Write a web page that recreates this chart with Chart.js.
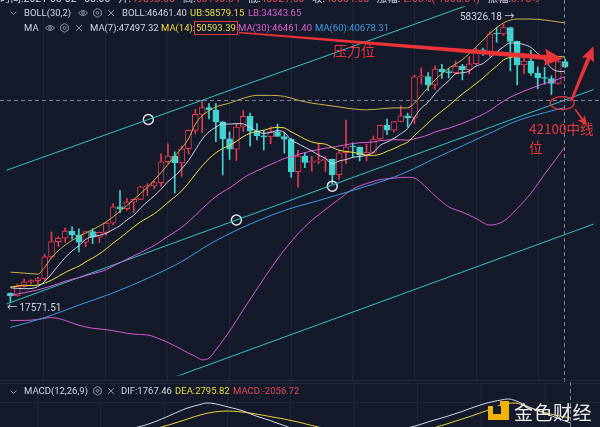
<!DOCTYPE html>
<html>
<head>
<meta charset="utf-8">
<script src="https://cdn.jsdelivr.net/npm/chart.js@4.4.1/dist/chart.umd.min.js"></script>
<style>
  html, body { margin: 0; padding: 0; }
  body { width: 600px; height: 427px; overflow: hidden; position: relative; background: #151a2b;
         font-family: Roboto, "Noto Sans CJK SC", sans-serif; }
  canvas { position: absolute; left: 0; }
  #main { top: 0; }
  #macd { top: 382px; }
  #sep { position: absolute; left: 0; top: 380px; width: 600px; height: 1px; background: #272c40; }
  #sep2 { position: absolute; left: 0; top: 383px; width: 600px; height: 1px; background: #1f2436; }
  .t { position: absolute; white-space: nowrap; font-size: 9.5px; line-height: 12px; color: #d3d5e0; }
  .t svg { position: absolute; }
  .w { color: #d3d5e0; } .y { color: #eedc3e; } .p { color: #de5fd2; } .b { color: #3f9fe6; } .r { color: #e34b55; }
  .note { position: absolute; white-space: nowrap; color: #e8363c; font-family: "Noto Sans CJK SC", sans-serif; }
</style>
</head>
<body>
<canvas id="main" width="600" height="382"></canvas>
<div id="sep"></div>
<div id="sep2"></div>
<canvas id="macd" width="600" height="45"></canvas>

<!-- header rows -->
<div class="t w" style="top:-7px;left:0;font-size:10.5px;word-spacing:5px">时间:2021-03-02 08:00 开:<span class="r">49590.30</span> 高:<span class="r">50198.34</span> 低:<span class="r">48321.00</span> 收:<span class="r">48584.66</span> 涨幅:<span class="r">-2.03%(-1005.64)</span> 振幅:<span class="r">3.78%</span></div>

<div class="t" style="top:7px;left:10px"><svg width="7" height="5" style="top:4px"><path d="M.5 .5L3.5 3.5L6.5 .5" fill="none" stroke="#8a8fa5"/></svg></div>
<div class="t w" style="top:7px;left:24px">BOLL(30,2)</div>
<div class="t" style="top:7px;left:78px"><svg width="10" height="8" style="top:2px"><path d="M.5 4Q5 -1 9.5 4Q5 9 .5 4Z" fill="none" stroke="#8a8fa5"/><circle cx="5" cy="4" r="1.4" fill="none" stroke="#8a8fa5"/></svg></div>
<div class="t" style="top:7px;left:93px"><svg width="9" height="10" style="top:1px"><path d="M4.5 .5L8.3 2.7V7.1L4.5 9.3L.7 7.1V2.7Z" fill="none" stroke="#8a8fa5"/><circle cx="4.5" cy="4.9" r="1.4" fill="none" stroke="#8a8fa5"/></svg></div>
<div class="t" style="top:7px;left:107px"><svg width="8" height="8" style="top:2px"><path d="M1 1L7 7M7 1L1 7" stroke="#8a8fa5"/></svg></div>
<div class="t w" style="top:7px;left:122px">BOLL:46461.40</div>
<div class="t y" style="top:7px;left:190px">UB:58579.15</div>
<div class="t p" style="top:7px;left:248px">LB:34343.65</div>

<div class="t w" style="top:22px;left:24px">MA</div>
<div class="t" style="top:22px;left:45px"><svg width="10" height="8" style="top:2px"><path d="M.5 4Q5 -1 9.5 4Q5 9 .5 4Z" fill="none" stroke="#8a8fa5"/><circle cx="5" cy="4" r="1.4" fill="none" stroke="#8a8fa5"/></svg></div>
<div class="t" style="top:22px;left:60px"><svg width="9" height="10" style="top:1px"><path d="M4.5 .5L8.3 2.7V7.1L4.5 9.3L.7 7.1V2.7Z" fill="none" stroke="#8a8fa5"/><circle cx="4.5" cy="4.9" r="1.4" fill="none" stroke="#8a8fa5"/></svg></div>
<div class="t" style="top:22px;left:75px"><svg width="8" height="8" style="top:2px"><path d="M1 1L7 7M7 1L1 7" stroke="#8a8fa5"/></svg></div>
<div class="t w" style="top:22px;left:90px">MA(7):47497.32</div>
<div class="t y" style="top:22px;left:161px">MA(14):</div>
<div class="t y" style="top:21px;left:194px;border:1px solid #e8363c;padding:0 1px;line-height:12px">50593.39</div>
<div class="t p" style="top:22px;left:238px">MA(30):46461.40</div>
<div class="t b" style="top:22px;left:315px">MA(60):40678.31</div>

<div class="t" style="top:386px;left:10px"><svg width="7" height="5" style="top:4px"><path d="M.5 .5L3.5 3.5L6.5 .5" fill="none" stroke="#8a8fa5"/></svg></div>
<div class="t w" style="top:385px;left:24px">MACD(12,26,9)</div>
<div class="t" style="top:385px;left:93px"><svg width="9" height="10" style="top:1px"><path d="M4.5 .5L8.3 2.7V7.1L4.5 9.3L.7 7.1V2.7Z" fill="none" stroke="#8a8fa5"/><circle cx="4.5" cy="4.9" r="1.4" fill="none" stroke="#8a8fa5"/></svg></div>
<div class="t" style="top:385px;left:107px"><svg width="8" height="8" style="top:2px"><path d="M1 1L7 7M7 1L1 7" stroke="#8a8fa5"/></svg></div>
<div class="t w" style="top:385px;left:121px">DIF:1767.46</div>
<div class="t y" style="top:385px;left:175px">DEA:2795.82</div>
<div class="t r" style="top:385px;left:233px">MACD:-2056.72</div>

<!-- high / low price tags -->
<div class="t w" style="top:11px;left:460px;font-size:10px">58326.18 →</div>
<div class="t w" style="top:302px;left:7px;font-size:10px">← 17571.51</div>

<!-- hand annotations -->
<div class="note" style="left:333px;top:40px;font-size:14px">压力位</div>
<div class="note" style="left:529px;top:119px;font-size:13.5px;line-height:19px">42100中线<br>位</div>

<!-- watermark -->
<svg style="position:absolute;left:488px;top:401px" width="21" height="19" viewBox="0 0 21 19">
  <path d="M0 5H12V0H21V19H0Z" fill="#f0b400"/>
  <rect x="5" y="5" width="8" height="8" fill="#151a2b"/>
</svg>
<div style="position:absolute;left:514px;top:398px;font-size:19px;color:#eeeeee;font-family:'Noto Sans CJK SC',sans-serif;letter-spacing:0.5px">金色财经</div>

<script>
// daily candles 2020-12-11 .. 2021-03-02
const dates = ['12-11','12-12','12-13','12-14','12-15','12-16','12-17','12-18','12-19','12-20',
  '12-21','12-22','12-23','12-24','12-25','12-26','12-27','12-28','12-29','12-30',
  '12-31','01-01','01-02','01-03','01-04','01-05','01-06','01-07','01-08','01-09',
  '01-10','01-11','01-12','01-13','01-14','01-15','01-16','01-17','01-18','01-19',
  '01-20','01-21','01-22','01-23','01-24','01-25','01-26','01-27','01-28','01-29',
  '01-30','01-31','02-01','02-02','02-03','02-04','02-05','02-06','02-07','02-08',
  '02-09','02-10','02-11','02-12','02-13','02-14','02-15','02-16','02-17','02-18',
  '02-19','02-20','02-21','02-22','02-23','02-24','02-25','02-26','02-27','02-28',
  '03-01','03-02']

const opens = [18245,18040,18800,19175,19275,19440,21350,22800,23140,23870,
  23480,22750,23820,23250,23730,24710,26490,26280,27040,27370,
  28900,28990,29410,32190,33000,32020,34040,36860,39490,40670,
  40240,38240,35550,34000,37400,39150,36770,36010,35820,36630,
  35890,35470,30830,32990,32090,32270,32370,32510,30430,33460,
  34320,34300,33110,33520,35510,37670,36900,38290,39260,38870,
  46450,46500,44850,48010,47470,47290,48590,47910,49130,52160,
  51600,55920,55840,57410,54090,48890,49680,47160,46280,46100,
  45140,49590]
const highs = [18290,18950,19410,19350,19570,21560,23800,23280,24170,24300,
  24100,23840,24110,23770,24790,26870,28420,27500,27410,28990,
  29300,29600,33300,34780,33600,34440,36940,40370,41950,41380,
  41350,38260,36630,37850,40100,39700,37950,36850,37400,37850,
  36420,35600,33830,33460,32940,34880,32920,32560,33780,38530,
  34930,34330,34720,35990,37660,38700,38310,40950,39700,46790,
  48200,47310,48680,48980,48130,49710,49000,50650,52620,52530,
  56370,57500,58326.18,57530,54180,51370,52040,48400,48390,46630,
  49790,50200]
const lows = [17571.51,18020,18710,19000,19050,19300,21230,22350,22750,23060,
  21820,22350,22600,22700,23440,24500,25850,26100,25880,27320,
  27850,28620,28950,32000,28130,30220,33290,36300,36500,38720,
  35110,30420,32530,32380,36700,34410,35360,33850,34800,35900,
  33400,30070,28850,31390,30900,31910,30840,29240,29840,31920,
  32830,32300,32300,33420,35360,36160,36570,38220,37350,37990,
  45020,43730,43990,46130,46200,47020,45800,47000,48950,50900,
  50710,53860,55480,47620,44890,47000,46700,44100,45000,43000,
  45000,48320]
const closes = [18040,18800,19175,19275,19440,21350,22800,23140,23870,23480,
  22750,23820,23250,23730,24710,26490,26280,27040,27370,28900,
  28990,29410,32190,33000,32020,34040,36860,39490,40670,40240,
  38240,35550,34000,37400,39150,36770,36010,35820,36630,35890,
  35470,30830,32990,32090,32270,32370,32510,30430,33460,34320,
  34300,33110,33520,35510,37670,36900,38290,39260,38870,46450,
  46500,44850,48010,47470,47290,48590,47910,49130,52160,51600,
  55920,55840,57410,54090,48890,49680,47160,46280,46100,45140,
  49590,48530]

const ma7 = [18691,18641,18615,18630,18790,19190,19840,20569,21293,21908,
  22404,23030,23301,23434,23659,24033,24433,25046,25553,26360,
  27111,27783,28597,29557,30269,31221,32359,33859,35467,36617,
  37366,37870,37864,37941,37893,37336,36731,36386,36540,36810,
  36534,35346,34806,34246,33739,33130,32647,31927,32303,32493,
  32809,32929,33093,33521,34556,35047,35614,36323,37146,38993,
  40563,41589,43176,44487,45634,47023,47231,47607,48651,49164,
  50371,51593,52853,53736,53701,53347,52713,51336,49944,48191,
  47549,47497.32]
const ma14 = [18748,18825,18896,18866,18914,19068,19309,19630,19967,20261,
  20517,20910,21246,21637,22114,22663,23170,23725,24291,24831,
  25273,25721,26315,26995,27657,28387,29359,30485,31625,32607,
  33461,34069,34543,35150,35876,36401,36674,36876,37205,37337,
  37238,36619,36071,35489,35062,34835,34729,34231,33824,33649,
  33527,33334,33111,33084,33241,33675,34054,34566,35037,36043,
  37042,38072,39111,40051,40979,42084,43112,44085,45120,46170,
  47429,48614,49938,50484,50654,50999,50939,50854,50769,50522,
  50642,50593.39]
const ma30 = [18113,18197,18292,18402,18517,18671,18843,19021,19222,19382,
  19517,19697,19860,20012,20212,20523,20828,21138,21445,21751,
  22092,22433,22858,23337,23766,24255,24845,25550,26288,27021,
  27694,28252,28747,29351,30008,30522,30962,31385,31810,32224,
  32648,32881,33206,33485,33737,33933,34140,34253,34456,34637,
  34814,34937,34982,35065,35254,35349,35397,35389,35329,35536,
  35811,36121,36588,36924,37195,37589,37986,38430,38947,39471,
  40153,40986,41800,42534,43088,43665,44153,44681,45103,45463,
  45973,46461.40]

// read at fewer candles
const ma60Idx = [0,5,10,15,20,25,28,30,35,40,45,50,56,59,62,66,70,74,78,81]
const ma60 = [15751,16433,17345,18282,19460,20923,22112,22904,24597,26082,
  27228,28453,30121,31278,32667,34474,36400,38412,39780,40678.31]

const bandIdx = [0,2,4,5,6,8,10,12,14,16,18,20,22,24,26,27,28,29,30,32,
  34,36,38,40,42,44,46,48,50,52,54,56,58,59,60,62,64,66,68,70,
  72,74,76,78,80,81]
const bollUpper = [19994,19911,19828,20415,21284,22469,23327,24017,24832,25997,
  27330,28849,30710,32966,35534,37825,39272,40095,40770,41455,
  42328,42861,42861,42681,41977,41455,41111,40770,40432,40264,
  40432,40601,40601,41455,42861,45816,48164,50005,52789,55958,
  58584,59568,59568,59320,58828,58579.15]
const bollLower = [16234,16234,16302,16380,16438,16234,15900,15700,15600,15450,
  15300,15250,14950,14550,14100,13900,13700,13800,14300,15500,
  17000,18600,20300,22000,23600,25000,26200,27400,28600,29300,
  29800,30000,30100,30000,29400,27800,26500,25900,25200,24500,
  24900,26300,28100,30500,33000,34343.65]

// MACD pane, only the visible upper part
const difIdx = [16,18,20,22,24,26,28,29,30,32,34,36,38,40,42,
  55,57,59,61,63,65,67,69,71,72,73,75,77,79,81]
const difLine = [-500,600,1300,2300,3500,4700,5500,5800,5700,5000,4300,3200,2300,1300,400,
  -500,600,1300,2200,3000,3900,4900,5800,6400,6600,6300,5000,3900,2800,1767.46]
const deaIdx = [20,22,24,26,28,30,32,34,36,38,40,42,44,46,
  59,61,63,65,67,69,71,73,75,77,79,81]
const deaLine = [-300,800,1600,2500,3400,4000,4200,4000,3600,3100,2600,2000,1300,700,
  -300,700,1500,2400,3300,4300,5400,5800,4900,4000,3300,2795.82]

// drawn channel lines [candle, price]
const channelTop = [[-1,30890],[70,65420]]
const channelMid = [[-1,17346],[86,44350]]
const channelLow = [[13.71,11378],[86,24822]]
const touchPoints = [[20.14,38622],[33,25040],[47,28970]]

// crosshair and hand drawn notes [candle, price]
const crossIdx = 81
const crossPrice = 42100
const pressArrow = [[33.4,56200],[80.6,50200]]
const upArrow = [[81.9,41900],[85.15,53000]]
const downArrow = [[82.45,40400],[84.2,37600]]
const ring = [80.57,41460]

const bg = '#151a2b'
const upCol = '#e23a4f'
const dnCol = '#40d3cf'
const gridCol = '#1f2436'
const xMin = -4 / 7, xMax = 596 / 7
const gridStart = 4.7, gridStep = 9.05

const pts = (idx, vals) => idx.map((i, k) => ({x: i, y: vals[k]}))
const allIdx = closes.map((c, i) => i)
const isUp = closes.map((c, i) => c >= opens[i])

function lineSet(label, data, color, order) {
  return {type: 'line', label, data, borderColor: color, borderWidth: 1, pointRadius: 0,
    tension: 0.35, cubicInterpolationMode: 'monotone', fill: false, order}
}

function vGrid(chart) {
  const {ctx, scales: {x}} = chart
  ctx.save()
  ctx.strokeStyle = gridCol
  ctx.lineWidth = 1
  ctx.beginPath()
  for (let v = gridStart; v < xMax; v += gridStep) {
    const px = Math.round(x.getPixelForValue(v)) + 0.5
    ctx.moveTo(px, 0); ctx.lineTo(px, chart.height)
  }
  ctx.stroke()
  ctx.restore()
}

function arrow(ctx, x0, y0, x1, y1, w0, w1, head, half) {
  const ang = Math.atan2(y1 - y0, x1 - x0)
  const len = Math.hypot(x1 - x0, y1 - y0)
  ctx.save()
  ctx.translate(x0, y0)
  ctx.rotate(ang)
  ctx.beginPath()
  ctx.moveTo(0, -w0 / 2)
  ctx.lineTo(len - head, -w1 / 2)
  ctx.lineTo(len - head - 2, -half)
  ctx.lineTo(len, 0)
  ctx.lineTo(len - head - 2, half)
  ctx.lineTo(len - head, w1 / 2)
  ctx.lineTo(0, w0 / 2)
  ctx.closePath()
  ctx.fill()
  ctx.restore()
}

const overlay = {
  id: 'overlay',
  beforeDatasetsDraw(chart) { vGrid(chart) },
  afterDatasetsDraw(chart) {
    const {ctx, scales: {x, y}} = chart
    const P = a => [x.getPixelForValue(a[0]), y.getPixelForValue(a[1])]
    ctx.save()
    ctx.strokeStyle = '#7c8194'
    ctx.lineWidth = 1
    ctx.setLineDash([4, 3])
    const cx = Math.round(x.getPixelForValue(crossIdx)) - 0.5
    const cy = Math.round(y.getPixelForValue(crossPrice)) + 0.5
    ctx.beginPath()
    ctx.moveTo(cx, 0); ctx.lineTo(cx, chart.height)
    ctx.moveTo(0, cy); ctx.lineTo(chart.width, cy)
    ctx.stroke()
    ctx.setLineDash([])

    ctx.fillStyle = '#ec3438'
    let a = P(pressArrow[0]), b = P(pressArrow[1])
    arrow(ctx, a[0], a[1], b[0], b[1], 1.5, 5, 16, 8.5)
    a = P(upArrow[0]); b = P(upArrow[1])
    arrow(ctx, a[0], a[1], b[0], b[1], 2.5, 4, 13, 6.5)
    a = P(downArrow[0]); b = P(downArrow[1])
    arrow(ctx, a[0], a[1], b[0], b[1], 1.5, 2, 8, 4.5)

    const r = P(ring)
    ctx.strokeStyle = '#ec3438'
    ctx.lineWidth = 1.2
    ctx.beginPath()
    ctx.ellipse(r[0], r[1], 12, 6.5, 0, 0, Math.PI * 2)
    ctx.stroke()
    ctx.restore()
  }
}

new Chart(document.getElementById('main'), {
  type: 'bar',
  data: {
    labels: dates,
    datasets: [
      lineSet('MA7', pts(allIdx, ma7), '#d2d3e6', 0),
      lineSet('MA14', pts(allIdx, ma14), '#f2e03e', 0),
      lineSet('MA30', pts(allIdx, ma30), '#e05ed6', 0),
      lineSet('MA60', pts(ma60Idx, ma60), '#3d9be2', 0),
      lineSet('UB', pts(bandIdx, bollUpper), '#c8b548', 0),
      lineSet('LB', pts(bandIdx, bollLower), '#d65acb', 0),
      {type: 'line', label: 'ch1', data: channelTop.map(p => ({x: p[0], y: p[1]})), borderColor: '#33c2c4', borderWidth: 1, pointRadius: 0, order: 0},
      {type: 'line', label: 'ch2', data: channelMid.map(p => ({x: p[0], y: p[1]})), borderColor: '#33c2c4', borderWidth: 1, pointRadius: 0, order: 0},
      {type: 'line', label: 'ch3', data: channelLow.map(p => ({x: p[0], y: p[1]})), borderColor: '#33c2c4', borderWidth: 1, pointRadius: 0, order: 0},
      {type: 'scatter', label: 'touch', data: touchPoints.map(p => ({x: p[0], y: p[1]})), pointRadius: 5,
        pointBorderWidth: 1.5, pointBorderColor: '#e4e4ea', pointBackgroundColor: 'rgba(0,0,0,0)', order: 0},
      {label: 'wick', data: allIdx.map(i => ({x: i, y: [lows[i], highs[i]]})),
        backgroundColor: isUp.map(u => u ? upCol : dnCol), barThickness: 1, grouped: false, order: 3},
      {label: 'body', data: allIdx.map(i => ({x: i, y: [opens[i], closes[i]]})),
        backgroundColor: isUp.map(u => u ? bg : dnCol), borderColor: isUp.map(u => u ? upCol : dnCol),
        borderWidth: 1, borderSkipped: false, barThickness: 6, minBarLength: 1, grouped: false, order: 2}
    ]
  },
  options: {
    responsive: false, animation: false, events: [],
    layout: {padding: 0},
    plugins: {legend: {display: false}, tooltip: {enabled: false}},
    scales: {
      x: {type: 'linear', min: xMin, max: xMax, offset: false, display: false},
      y: {type: 'logarithmic', min: 12802, max: 62883, display: false}
    }
  },
  plugins: [overlay]
})

const macdCross = {
  id: 'macdCross',
  beforeDatasetsDraw(chart) {
    vGrid(chart)
    const {ctx, scales: {y}} = chart
    const gy = Math.round(y.getPixelForValue(6000)) + 0.5
    ctx.save()
    ctx.strokeStyle = gridCol
    ctx.beginPath()
    ctx.moveTo(0, gy); ctx.lineTo(chart.width, gy)
    ctx.stroke()
    ctx.restore()
  },
  afterDatasetsDraw(chart) {
    const {ctx, scales: {x}} = chart
    const cx = Math.round(x.getPixelForValue(crossIdx)) - 0.5
    ctx.save()
    ctx.strokeStyle = '#7c8194'
    ctx.setLineDash([4, 3])
    ctx.beginPath()
    ctx.moveTo(cx, 0); ctx.lineTo(cx, chart.height)
    ctx.stroke()
    ctx.restore()
  }
}

new Chart(document.getElementById('macd'), {
  type: 'line',
  data: {
    datasets: [
      lineSet('DIF', pts(difIdx, difLine), '#d2d3e6', 0),
      lineSet('DEA', pts(deaIdx, deaLine), '#e6d43a', 1)
    ]
  },
  options: {
    responsive: false, animation: false, events: [],
    layout: {padding: 0},
    plugins: {legend: {display: false}, tooltip: {enabled: false}},
    scales: {
      x: {type: 'linear', min: xMin, max: xMax, display: false},
      y: {type: 'linear', min: 1000, max: 10000, display: false}
    }
  },
  plugins: [macdCross]
})
</script>
</body>
</html>
